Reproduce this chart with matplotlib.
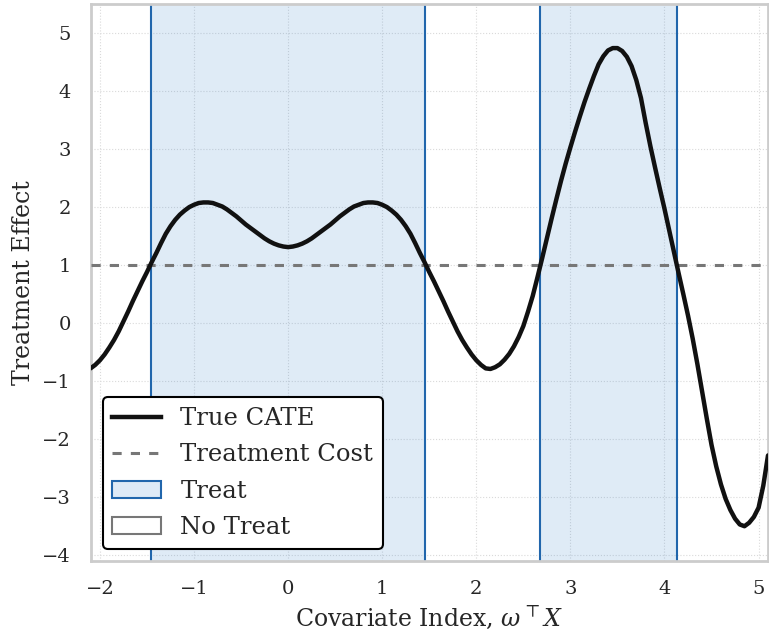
import matplotlib
matplotlib.use("Agg")
import matplotlib.pyplot as plt
from matplotlib.patches import Patch
from matplotlib.lines import Line2D

# ---- data ----
x_vals = [-2.10, -2.05, -2.00, -1.95, -1.90, -1.85, -1.80, -1.75, -1.70, -1.65,
          -1.60, -1.55, -1.50, -1.45, -1.40, -1.35, -1.30, -1.25, -1.20, -1.15,
          -1.10, -1.05, -1.00, -0.95, -0.90, -0.85, -0.80, -0.75, -0.70, -0.65,
          -0.60, -0.55, -0.50, -0.45, -0.40, -0.35, -0.30, -0.25, -0.20, -0.15,
          -0.10, -0.05, 0.00, 0.05, 0.10, 0.15, 0.20, 0.25, 0.30, 0.35,
          0.40, 0.45, 0.50, 0.55, 0.60, 0.65, 0.70, 0.75, 0.80, 0.85,
          0.90, 0.95, 1.00, 1.05, 1.10, 1.15, 1.20, 1.25, 1.30, 1.35,
          1.40, 1.45, 1.50, 1.55, 1.60, 1.65, 1.70, 1.75, 1.80, 1.85,
          1.90, 1.95, 2.00, 2.05, 2.10, 2.15, 2.20, 2.25, 2.30, 2.35,
          2.40, 2.45, 2.50, 2.55, 2.60, 2.65, 2.70, 2.75, 2.80, 2.85,
          2.90, 2.95, 3.00, 3.05, 3.10, 3.15, 3.20, 3.25, 3.30, 3.35,
          3.40, 3.45, 3.50, 3.55, 3.60, 3.65, 3.70, 3.75, 3.80, 3.85,
          3.90, 3.95, 4.00, 4.05, 4.10, 4.15, 4.20, 4.25, 4.30, 4.35,
          4.40, 4.45, 4.50, 4.55, 4.60, 4.65, 4.70, 4.75, 4.80, 4.85,
          4.90, 4.95, 5.00, 5.05, 5.10]
cate_vals = [-0.78, -0.72, -0.64, -0.54, -0.42, -0.29, -0.14, 0.03, 0.20, 0.38,
             0.55, 0.72, 0.88, 1.05, 1.21, 1.38, 1.54, 1.67, 1.78, 1.87,
             1.94, 2.00, 2.04, 2.07, 2.08, 2.08, 2.07, 2.04, 2.01, 1.96,
             1.90, 1.84, 1.77, 1.70, 1.64, 1.58, 1.52, 1.46, 1.41, 1.37,
             1.34, 1.32, 1.31, 1.32, 1.34, 1.37, 1.41, 1.46, 1.52, 1.58,
             1.64, 1.70, 1.77, 1.84, 1.90, 1.96, 2.01, 2.04, 2.07, 2.08,
             2.08, 2.07, 2.04, 2.00, 1.94, 1.87, 1.78, 1.67, 1.54, 1.38,
             1.21, 1.05, 0.88, 0.72, 0.55, 0.38, 0.20, 0.03, -0.14, -0.29,
             -0.42, -0.54, -0.64, -0.72, -0.78, -0.79, -0.76, -0.71, -0.63, -0.53,
             -0.40, -0.24, -0.05, 0.20, 0.47, 0.79, 1.12, 1.46, 1.80, 2.13,
             2.45, 2.75, 3.03, 3.30, 3.56, 3.81, 4.04, 4.26, 4.46, 4.60,
             4.70, 4.74, 4.74, 4.69, 4.59, 4.43, 4.19, 3.88, 3.45, 3.05,
             2.68, 2.32, 1.97, 1.60, 1.23, 0.86, 0.50, 0.13, -0.27, -0.71,
             -1.18, -1.65, -2.10, -2.47, -2.78, -3.03, -3.22, -3.37, -3.47, -3.50,
             -3.44, -3.34, -3.18, -2.80, -2.28]
treatment_cost = 1.0
treat_starts = [-1.46, 2.68]
treat_ends = [1.46, 4.13]
x_ticks = [-2, -1, 0, 1, 2, 3, 4, 5]
y_ticks = [-4, -3, -2, -1, 0, 1, 2, 3, 4, 5]

plt.rcParams['font.family'] = ['DejaVu Serif']
plt.rcParams['mathtext.fontset'] = 'dejavuserif'

fig = plt.figure(figsize=(7.69, 6.34), dpi=100)
ax = fig.add_axes([0.1177, 0.1151, 0.8810, 0.8786])

treat_blue = '#2166ac'
for s, e in zip(treat_starts, treat_ends):
    ax.axvspan(s, e, facecolor='#3a85cc', alpha=0.16, lw=0, zorder=1)
    ax.axvline(s, color=treat_blue, lw=1.5, zorder=2)
    ax.axvline(e, color=treat_blue, lw=1.5, zorder=2)

ax.axhline(treatment_cost, color='#777777', lw=2.2, dashes=(3, 3), zorder=3)
ax.plot(x_vals, cate_vals, color='#111111', lw=3.2, zorder=4,
        solid_capstyle='round', solid_joinstyle='round')

ax.set_xlim(-2.1, 5.1)
ax.set_ylim(-4.1, 5.5)
ax.set_xticks(x_ticks)
ax.set_yticks(y_ticks)
ax.tick_params(axis='both', length=0, labelsize=14, colors='#262626', pad=14)
ax.grid(True, color='#dadada', ls=':', lw=0.8)
ax.set_axisbelow(True)
for sp in ax.spines.values():
    sp.set_color('#cccccc')
    sp.set_linewidth(2)

ax.set_xlabel(r'Covariate Index, $\omega^\top X$', fontsize=17, color='#262626', labelpad=4)
ax.set_ylabel('Treatment Effect', fontsize=17, color='#262626', labelpad=5)

handles = [
    Line2D([0], [0], color='#111111', lw=3.2),
    Line2D([0], [0], color='#777777', lw=2.2, dashes=(3, 3)),
    Patch(facecolor='#deeaf6', edgecolor=treat_blue, lw=1.5),
    Patch(facecolor='white', edgecolor='#777777', lw=1.5),
]
labels = ['True CATE', 'Treatment Cost', 'Treat', 'No Treat']
leg = ax.legend(handles, labels, loc='lower left', fontsize=17.5, frameon=True,
                fancybox=True, framealpha=1, edgecolor='black',
                handlelength=2.0, borderpad=0.4, labelspacing=0.55,
                bbox_to_anchor=(0.0, 0.0))
leg.get_frame().set_linewidth(1.5)
for t in leg.get_texts():
    t.set_color('#262626')

fig.savefig('out.png', dpi=100)
